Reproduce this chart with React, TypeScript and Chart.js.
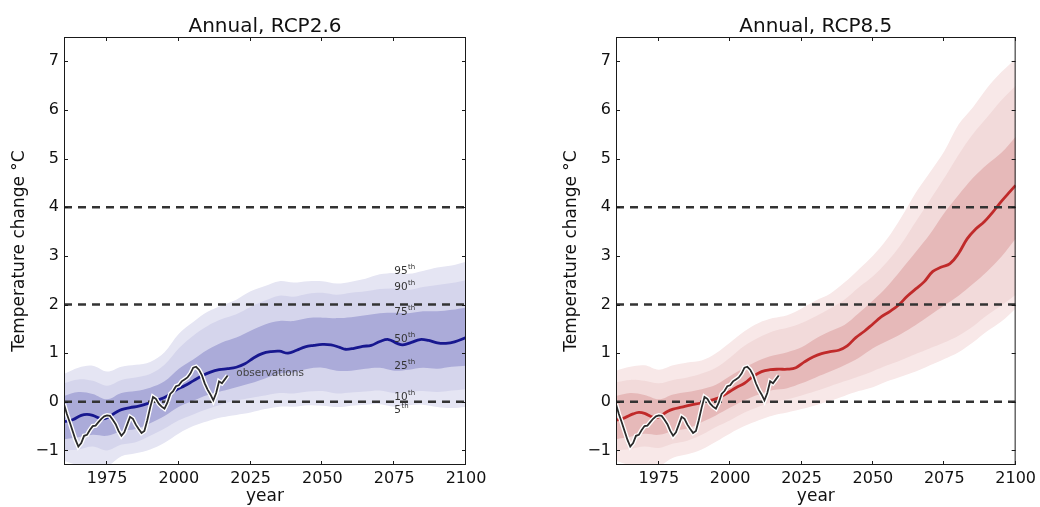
import React, { useEffect, useRef } from "react";
import { Chart, registerables } from "chart.js";

Chart.register(...registerables);

const FONT = "'DejaVu Sans', 'Liberation Sans', sans-serif";

// ---------- data ----------
const xTicks = [1975, 2000, 2025, 2050, 2075, 2100];
const yTicks = [-1, 0, 1, 2, 3, 4, 5, 6, 7];
const thresholds = [0, 2, 4];

const bandYears = [1960, 1965, 1970, 1975, 1980, 1985, 1990, 1995, 2000, 2005, 2010, 2015, 2020, 2025, 2030, 2035, 2040, 2045, 2050, 2055, 2060, 2065, 2070, 2075, 2080, 2085, 2090, 2095, 2100];

// RCP2.6 percentiles
const blueP5 = [-1.22, -1.3, -1.3, -1.32, -1.12, -1.06, -0.98, -0.84, -0.65, -0.5, -0.4, -0.32, -0.27, -0.22, -0.15, -0.1, -0.1, -0.07, -0.08, -0.11, -0.08, -0.06, -0.05, -0.1, -0.07, -0.06, -0.11, -0.13, -0.1];
const blueP10 = [-1.0, -0.98, -0.92, -1.0, -0.88, -0.83, -0.7, -0.55, -0.38, -0.26, -0.15, -0.05, 0.03, 0.08, 0.13, 0.18, 0.17, 0.21, 0.22, 0.17, 0.19, 0.21, 0.23, 0.18, 0.2, 0.22, 0.2, 0.23, 0.26];
const blueP25 = [-0.77, -0.73, -0.68, -0.7, -0.6, -0.56, -0.44, -0.29, -0.1, 0.02, 0.14, 0.22, 0.3, 0.38, 0.48, 0.58, 0.6, 0.68, 0.7, 0.64, 0.64, 0.68, 0.7, 0.64, 0.66, 0.7, 0.68, 0.72, 0.74];
const blueP75 = [0.12, 0.2, 0.16, 0.05, 0.18, 0.22, 0.29, 0.42, 0.68, 0.87, 1.07, 1.22, 1.32, 1.46, 1.59, 1.66, 1.66, 1.72, 1.73, 1.72, 1.74, 1.78, 1.82, 1.83, 1.82, 1.86, 1.86, 1.89, 1.94];
const blueP90 = [0.38, 0.46, 0.43, 0.33, 0.45, 0.5, 0.57, 0.76, 1.1, 1.36, 1.56, 1.7, 1.8, 1.95, 2.08, 2.18, 2.16, 2.22, 2.24, 2.2, 2.24, 2.27, 2.32, 2.33, 2.3, 2.36, 2.4, 2.44, 2.5];
const blueP95 = [0.57, 0.7, 0.74, 0.62, 0.72, 0.76, 0.82, 1.02, 1.4, 1.64, 1.85, 1.98, 2.1, 2.27, 2.38, 2.48, 2.45, 2.48, 2.48, 2.43, 2.47, 2.53, 2.62, 2.65, 2.63, 2.69, 2.76, 2.8, 2.88];

const blueMedYears = [1960, 1963, 1966, 1968, 1970, 1973, 1975, 1978, 1980, 1983, 1986, 1990, 1993, 1996, 1999, 2002, 2005, 2008, 2011, 2014, 2017, 2020, 2023, 2026, 2029, 2032, 2035, 2038, 2041, 2044, 2047, 2050, 2053, 2056, 2058, 2061, 2064, 2067, 2070, 2073, 2076, 2078, 2081, 2084, 2087, 2090, 2093, 2096, 2100];
const blueMed = [-0.41, -0.37, -0.28, -0.26, -0.28, -0.35, -0.33, -0.22, -0.16, -0.12, -0.09, -0.02, 0.04, 0.12, 0.24, 0.33, 0.43, 0.53, 0.61, 0.66, 0.68, 0.71, 0.78, 0.9, 0.99, 1.03, 1.04, 1.0, 1.06, 1.13, 1.16, 1.18, 1.17, 1.12, 1.08, 1.1, 1.14, 1.16, 1.24, 1.28, 1.2, 1.17, 1.22, 1.28, 1.26, 1.21, 1.2, 1.23, 1.32];

// RCP8.5 percentiles
const redP5 = [-1.22, -1.3, -1.3, -1.32, -1.15, -1.08, -0.98, -0.82, -0.65, -0.5, -0.38, -0.28, -0.22, -0.15, -0.07, 0.02, 0.12, 0.22, 0.3, 0.42, 0.52, 0.62, 0.75, 0.88, 1.02, 1.22, 1.45, 1.65, 1.92];
const redP10 = [-1.0, -0.97, -0.92, -0.95, -0.86, -0.8, -0.68, -0.52, -0.38, -0.22, -0.1, 0.0, 0.05, 0.13, 0.22, 0.32, 0.42, 0.52, 0.63, 0.75, 0.86, 0.98, 1.1, 1.22, 1.36, 1.55, 1.78, 1.98, 2.2];
const redP25 = [-0.77, -0.72, -0.66, -0.68, -0.6, -0.55, -0.42, -0.28, -0.12, 0.03, 0.15, 0.24, 0.28, 0.38, 0.5, 0.62, 0.75, 0.9, 1.1, 1.25, 1.4, 1.58, 1.78, 1.98, 2.18, 2.42, 2.68, 2.98, 3.35];
const redP75 = [0.12, 0.18, 0.14, 0.05, 0.15, 0.2, 0.26, 0.35, 0.53, 0.7, 0.85, 0.95, 1.02, 1.12, 1.3, 1.45, 1.58, 1.82, 2.08, 2.37, 2.72, 3.08, 3.45, 3.88, 4.25, 4.6, 4.88, 5.12, 5.45];
const redP90 = [0.4, 0.45, 0.43, 0.38, 0.45, 0.5, 0.58, 0.7, 0.91, 1.15, 1.32, 1.45, 1.52, 1.62, 1.76, 1.92, 2.1, 2.35, 2.58, 2.88, 3.25, 3.7, 4.15, 4.6, 5.08, 5.5, 5.85, 6.2, 6.5];
const redP95 = [0.64, 0.72, 0.75, 0.66, 0.75, 0.81, 0.85, 1.0, 1.22, 1.45, 1.62, 1.72, 1.78, 1.92, 2.08, 2.22, 2.45, 2.72, 3.0, 3.35, 3.8, 4.3, 4.72, 5.15, 5.7, 6.05, 6.45, 6.78, 7.05];

const redMedYears = [1960, 1963, 1966, 1968, 1970, 1973, 1975, 1978, 1980, 1983, 1986, 1990, 1993, 1996, 1999, 2002, 2005, 2008, 2011, 2014, 2017, 2020, 2023, 2026, 2029, 2032, 2035, 2038, 2041, 2044, 2047, 2050, 2053, 2056, 2059, 2062, 2065, 2068, 2071, 2074, 2077, 2080, 2083, 2086, 2089, 2092, 2095, 2098, 2100];
const redMed = [-0.38, -0.33, -0.25, -0.22, -0.24, -0.32, -0.31, -0.2, -0.15, -0.11, -0.07, -0.02, 0.03, 0.08, 0.18, 0.29, 0.38, 0.52, 0.62, 0.66, 0.67, 0.67, 0.7, 0.82, 0.92, 0.99, 1.03, 1.06, 1.15, 1.32, 1.45, 1.6, 1.75, 1.86, 1.99, 2.17, 2.32, 2.47, 2.68, 2.77, 2.84, 3.05, 3.35, 3.55, 3.7, 3.9, 4.12, 4.32, 4.45];

// observations (smoothed)
const obsYears = [1960, 1961, 1962, 1963, 1964, 1965, 1966, 1967, 1968, 1969, 1970, 1971, 1972, 1973, 1974, 1975, 1976, 1977, 1978, 1979, 1980, 1981, 1982, 1983, 1984, 1985, 1986, 1987, 1988, 1989, 1990, 1991, 1992, 1993, 1994, 1995, 1996, 1997, 1998, 1999, 2000, 2001, 2002, 2003, 2004, 2005, 2006, 2007, 2008, 2009, 2010, 2011, 2012, 2013, 2014, 2015, 2016, 2017];
const obsValues = [-0.05, -0.25, -0.42, -0.6, -0.78, -0.92, -0.85, -0.7, -0.68, -0.58, -0.5, -0.49, -0.42, -0.35, -0.3, -0.28, -0.29, -0.37, -0.46, -0.6, -0.7, -0.63, -0.47, -0.31, -0.35, -0.47, -0.56, -0.64, -0.6, -0.38, -0.12, 0.1, 0.06, -0.04, -0.1, -0.14, -0.02, 0.16, 0.22, 0.32, 0.34, 0.42, 0.46, 0.5, 0.58, 0.7, 0.72, 0.66, 0.55, 0.38, 0.25, 0.15, 0.03, 0.18, 0.42, 0.38, 0.46, 0.54];

// percentile annotations (left panel)
const pctLabels = ["95", "90", "75", "50", "25", "10", "5"];
const pctLabelValues = [2.71, 2.38, 1.87, 1.31, 0.76, 0.12, -0.16];
const pctLabelYear = 2075;
const obsLabel = "observations";
const obsLabelYear = 2020;
const obsLabelValue = 0.59;

const X_MIN = 1960;
const X_MAX = 2100;
const Y_MIN = -1.3;
const Y_MAX = 7.5;

type Spec = {
  title: string;
  p5: number[]; p10: number[]; p25: number[]; p75: number[]; p90: number[]; p95: number[];
  medYears: number[]; med: number[];
  c1: string; c2: string; c3: string; line: string;
  annotate: boolean;
  padRight: number;
};

const leftSpec: Spec = {
  title: "Annual, RCP2.6",
  p5: blueP5, p10: blueP10, p25: blueP25, p75: blueP75, p90: blueP90, p95: blueP95,
  medYears: blueMedYears, med: blueMed,
  c1: "#e5e5f3", c2: "#d5d5ec", c3: "#ababd9", line: "#17178f",
  annotate: true,
  padRight: 54,
};

const rightSpec: Spec = {
  title: "Annual, RCP8.5",
  p5: redP5, p10: redP10, p25: redP25, p75: redP75, p90: redP90, p95: redP95,
  medYears: redMedYears, med: redMed,
  c1: "#f8e8e8", c2: "#f2dada", c3: "#e6b9b9", line: "#c02a2a",
  annotate: false,
  padRight: 23,
};

const pts = (xs: number[], ys: number[]) => xs.map((x, i) => ({ x, y: ys[i] }));

function band(data: number[], fillTo: number | false, color: string, order: number) {
  return {
    data: pts(bandYears, data),
    fill: fillTo === false ? false : fillTo,
    backgroundColor: color,
    borderColor: "transparent",
    borderWidth: 0,
    pointRadius: 0,
    tension: 0.35,
    order,
  };
}

function buildChart(canvas: HTMLCanvasElement, spec: Spec) {
  const overlay = {
    id: "overlay",
    afterDatasetsDraw(chart: any) {
      const { ctx, chartArea: a, scales } = chart;
      const xs = scales.x;
      const ys = scales.y;
      ctx.save();
      if (spec.annotate) {
        ctx.fillStyle = "#333";
        ctx.textBaseline = "middle";
        ctx.textAlign = "left";
        const lx = xs.getPixelForValue(pctLabelYear);
        pctLabels.forEach((lab, i) => {
          const py = ys.getPixelForValue(pctLabelValues[i]);
          ctx.font = `10.5px ${FONT}`;
          ctx.fillText(lab, lx, py + 1);
          const w = ctx.measureText(lab).width;
          ctx.font = `7px ${FONT}`;
          ctx.fillText("th", lx + w + 0.5, py - 3);
        });
        ctx.fillStyle = "#444";
        ctx.font = `10.5px ${FONT}`;
        ctx.fillText(obsLabel, xs.getPixelForValue(obsLabelYear), ys.getPixelForValue(obsLabelValue));
      }
      // frame
      ctx.strokeStyle = "#1a1a1a";
      ctx.lineWidth = 1;
      ctx.strokeRect(a.left + 0.5, a.top + 0.5, a.right - a.left - 1, a.bottom - a.top - 1);
      // inward ticks
      ctx.beginPath();
      xTicks.forEach((v) => {
        const px = Math.round(xs.getPixelForValue(v)) - 0.5;
        ctx.moveTo(px, a.bottom); ctx.lineTo(px, a.bottom - 4);
        ctx.moveTo(px, a.top); ctx.lineTo(px, a.top + 4);
      });
      yTicks.forEach((v) => {
        const py = Math.round(ys.getPixelForValue(v)) + 0.5;
        ctx.moveTo(a.left, py); ctx.lineTo(a.left + 4, py);
        ctx.moveTo(a.right, py); ctx.lineTo(a.right - 4, py);
      });
      ctx.stroke();
      // title
      ctx.fillStyle = "#111";
      ctx.font = `20px ${FONT}`;
      ctx.textAlign = "center";
      ctx.textBaseline = "alphabetic";
      ctx.fillText(spec.title, (a.left + a.right) / 2, 31.5);
      ctx.restore();
    },
  };

  const datasets: any[] = [
    band(spec.p95, 1, spec.c1, 10),
    band(spec.p5, false, spec.c1, 10),
    band(spec.p90, 3, spec.c2, 9),
    band(spec.p10, false, spec.c2, 9),
    band(spec.p75, 5, spec.c3, 8),
    band(spec.p25, false, spec.c3, 8),
    {
      data: pts(spec.medYears, spec.med),
      borderColor: spec.line,
      borderWidth: 2.8,
      pointRadius: 0,
      tension: 0.4,
      fill: false,
      order: 6,
    },
    ...thresholds.map((v) => ({
      data: [{ x: X_MIN, y: v }, { x: X_MAX, y: v }],
      borderColor: "#333",
      borderWidth: 2.4,
      borderDash: [8, 6],
      pointRadius: 0,
      fill: false,
      order: 5,
    })),
    {
      data: pts(obsYears, obsValues),
      borderColor: "#ffffff",
      borderWidth: 4.5,
      pointRadius: 0,
      tension: 0,
      fill: false,
      order: 2,
    },
    {
      data: pts(obsYears, obsValues),
      borderColor: "#2b2b2b",
      borderWidth: 1.8,
      pointRadius: 0,
      tension: 0,
      fill: false,
      order: 1,
    },
  ];

  return new Chart(canvas, {
    type: "line",
    data: { datasets },
    options: {
      animation: false,
      responsive: false,
      devicePixelRatio: 1,
      events: [],
      layout: { padding: { left: 0, right: spec.padRight, top: 37, bottom: 0 } },
      plugins: {
        legend: { display: false },
        tooltip: { enabled: false },
        title: { display: false },
      },
      scales: {
        x: {
          type: "linear",
          min: X_MIN,
          max: X_MAX,
          afterBuildTicks: (s: any) => {
            s.ticks = xTicks.map((v) => ({ value: v }));
          },
          afterFit: (s: any) => {
            s.height = 42;
          },
          grid: { display: false, drawTicks: false },
          border: { display: false },
          ticks: {
            padding: 4,
            color: "#111",
            font: { size: 16, family: FONT },
            maxRotation: 0,
            autoSkip: false,
            callback: (v: any) => String(v),
          },
          title: {
            display: true,
            text: "year",
            color: "#111",
            font: { size: 17, family: FONT },
            padding: { top: 0, bottom: 0 },
          },
        },
        y: {
          type: "linear",
          min: Y_MIN,
          max: Y_MAX,
          afterBuildTicks: (s: any) => {
            s.ticks = yTicks.map((v) => ({ value: v }));
          },
          afterFit: (s: any) => {
            s.width = 64;
          },
          grid: { display: false, drawTicks: false },
          border: { display: false },
          ticks: {
            padding: 5,
            color: "#111",
            font: { size: 16, family: FONT },
            autoSkip: false,
            callback: (v: any) => String(v).replace("-", "\u2212"),
          },
          title: {
            display: true,
            text: "Temperature change °C",
            color: "#111",
            font: { size: 17, family: FONT },
            padding: { top: 9, bottom: 0 },
          },
        },
      },
    },
    plugins: [overlay],
  } as any);
}

function Panel({ spec, left, width }: { spec: Spec; left: number; width: number }) {
  const ref = useRef<HTMLCanvasElement>(null);
  useEffect(() => {
    if (!ref.current) return;
    const chart = buildChart(ref.current, spec);
    return () => chart.destroy();
  }, [spec]);
  return (
    <canvas
      ref={ref}
      width={width}
      height={507}
      style={{ position: "absolute", left, top: 0, width, height: 507 }}
    />
  );
}

export default function App() {
  return (
    <div style={{ position: "absolute", left: 0, top: 0, width: 1040, height: 507, background: "#fff", overflow: "hidden" }}>
      <Panel spec={leftSpec} left={0} width={520} />
      <Panel spec={rightSpec} left={552} width={488} />
    </div>
  );
}
